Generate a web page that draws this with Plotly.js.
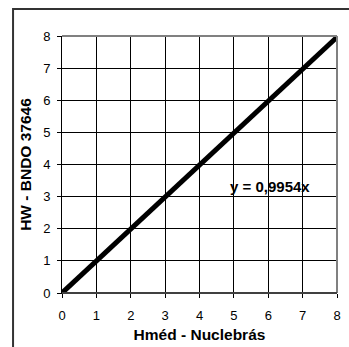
<!DOCTYPE html>
<html>
<head>
<meta charset="utf-8">
<script src="https://cdn.plot.ly/plotly-3.0.1.min.js"></script>
<style>
html,body{margin:0;padding:0;background:#fff;}
#chart{width:349px;height:347px;}
</style>
</head>
<body>
<div id="chart"></div>
<script>
const lineX = [0, 8];
const slope = 0.9954;
const lineY = [0, 8 * 0.9954];
const tickVals = [0, 1, 2, 3, 4, 5, 6, 7, 8];
const xTitle = 'Hméd - Nuclebrás';
const yTitle = 'HW - BNDO 37646';
const eqText = 'y = 0,9954x';

const FONT = 'Liberation Sans, Arial, sans-serif';

const trace = {
  x: lineX,
  y: lineY,
  type: 'scatter',
  mode: 'lines',
  line: {color: '#000', width: 5},
  hoverinfo: 'skip',
  showlegend: false
};

const axisCommon = {
  range: [0, 8],
  tickvals: tickVals,
  ticks: 'outside',
  ticklen: 4,
  tickwidth: 1,
  tickcolor: '#000',
  showgrid: true,
  gridcolor: '#000',
  gridwidth: 1,
  showline: true,
  linecolor: '#000',
  linewidth: 1,
  zeroline: false,
  tickfont: {family: FONT, size: 13, color: '#000'},
  fixedrange: true
};

const layout = {
  width: 349,
  height: 347,
  margin: {l: 62, r: 12, t: 36, b: 54},
  paper_bgcolor: '#fff',
  plot_bgcolor: '#fff',
  font: {family: FONT, color: '#000'},
  xaxis: Object.assign({}, axisCommon, {
    ticklabelstandoff: 6,
    title: {text: xTitle, font: {family: FONT, size: 15.5, color: '#000', weight: 'bold'}, standoff: 7}
  }),
  yaxis: Object.assign({}, axisCommon, {
    ticklabelstandoff: 4,
    title: {text: yTitle, font: {family: FONT, size: 15.5, color: '#000', weight: 'bold'}, standoff: 7}
  }),
  annotations: [{
    x: 6.05, y: 3.33, xref: 'x', yref: 'y',
    text: eqText, showarrow: false,
    font: {family: FONT, size: 15, color: '#000', weight: 'bold'},
    bgcolor: 'rgba(0,0,0,0)'
  }],
  shapes: [
    {type: 'line', xref: 'paper', yref: 'paper', x0: 0, x1: 1, y0: 1, y1: 1,
     line: {color: '#808080', width: 2}, layer: 'above'},
    {type: 'line', xref: 'paper', yref: 'paper', x0: 1, x1: 1, y0: 0, y1: 1,
     line: {color: '#808080', width: 2}, layer: 'above'},
    {type: 'line', xref: 'paper', yref: 'paper', x0: 0, x1: 1, y0: 0, y1: 0,
     line: {color: '#404040', width: 2}, layer: 'above'},
    {type: 'rect', xref: 'paper', yref: 'paper', x0: -0.178, x1: 1.2, y0: -0.3, y1: 1.105,
     line: {color: '#333', width: 2}, fillcolor: 'rgba(0,0,0,0)', layer: 'above'}
  ]
};

Plotly.newPlot('chart', [trace], layout, {displayModeBar: false, staticPlot: true});
</script>
</body>
</html>
